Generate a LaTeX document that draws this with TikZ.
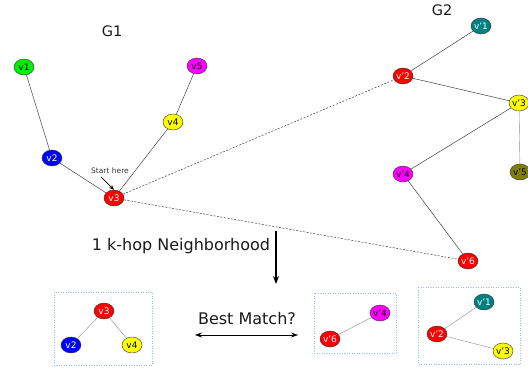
\documentclass[tikz,border=0pt]{standalone}
\usepackage{fontspec}
\setmainfont{DejaVu Sans}
\usetikzlibrary{arrows.meta,shapes.geometric}
\definecolor{vgreen}{RGB}{0,240,0}
\definecolor{vteal}{RGB}{0,128,128}
\definecolor{volive}{RGB}{128,128,0}
\definecolor{vred}{RGB}{255,0,0}
\definecolor{vblue}{RGB}{0,0,255}
\definecolor{vyellow}{RGB}{255,255,0}
\definecolor{vmag}{RGB}{255,0,255}
\definecolor{boxblue}{RGB}{150,190,240}
\tikzset{
  vtx/.style={ellipse,draw=black!80,line width=0.4pt,minimum width=20pt,minimum height=16pt,inner sep=0pt,font=\fontsize{9}{10}\selectfont},
  edge/.style={draw=black!75,line width=0.5pt},
  ledge/.style={draw=black!45,line width=0.4pt},
  dedge/.style={draw=black!75,line width=0.5pt,dash pattern=on 2pt off 1.5pt},
  bbox/.style={draw=boxblue,line width=0.5pt,dotted},
  lbl/.style={font=\fontsize{14.5}{16}\selectfont,text=black!90},
  biglbl/.style={font=\fontsize{16}{18}\selectfont,text=black!90},
}
\begin{document}
\begin{tikzpicture}[x=1pt,y=-1pt]
\useasboundingbox (0,0) rectangle (528,369);
% titles
\node[lbl] (g1) at (112,31) {G1};
\node[lbl] (g2) at (442,10) {G2};
% G1
\node[vtx,fill=vgreen] (v1) at (24,67) {v1};
\node[vtx,fill=vmag] (v5) at (197,66) {v5};
\node[vtx,fill=vyellow] (v4) at (173,122) {v4};
\node[vtx,fill=vblue,text=white] (v2) at (52,158) {v2};
\node[vtx,fill=vred,text=white] (v3) at (114,198) {v3};
\draw[edge] (v1) -- (v2);
\draw[edge] (v2) -- (v3);
\draw[edge] (v3) -- (v4);
\draw[edge] (v4) -- (v5);
\node[font=\fontsize{7.5}{8}\selectfont,text=black!80] (start) at (110,171) {Start here};
\coordinate (sa) at (101,177);
\draw[-{Stealth[length=5pt,width=4pt]},line width=0.7pt] (sa) -- (v3.north);
% G2
\node[vtx,fill=vteal,text=white] (w1) at (481,26) {v'1};
\node[vtx,fill=vred,text=white] (w2) at (403,76) {v'2};
\node[vtx,fill=vyellow] (w3) at (519,103) {v'3};
\node[vtx,fill=vmag] (w4) at (403,174) {v'4};
\node[vtx,fill=volive] (w5) at (520,172) {v'5};
\node[vtx,fill=vred,text=white] (w6) at (468,261) {v'6};
\draw[edge] (w1) -- (w2);
\draw[edge] (w2) -- (w3);
\draw[edge] (w3) -- (w4);
\draw[ledge] (w3) -- (w5);
\draw[edge] (w4) -- (w6);
% dashed
\draw[dedge] (v3) -- (w2);
\draw[dedge] (v3) -- (w6);
% k-hop
\node[biglbl] (khop) at (181,246) {1 k-hop Neighborhood};
\coordinate (ka) at (276,231);
\coordinate (kb) at (276,284);
\draw[-{Stealth[length=8pt,width=6pt]},line width=1.4pt] (ka) -- (kb);
% best match
\node[biglbl] (best) at (247,319) {Best Match?};
\coordinate (ba) at (195,335);
\coordinate (bb) at (298,335);
\draw[{Stealth[length=7pt,width=5pt]}-{Stealth[length=7pt,width=5pt]},line width=0.6pt] (ba) -- (bb);
% boxes
\draw[bbox] (54,292) rectangle (152,365);
\node[vtx,fill=vred,text=white] (b3) at (104,311) {v3};
\node[vtx,fill=vblue,text=white] (b2) at (71,345) {v2};
\node[vtx,fill=vyellow] (b4) at (132,345) {v4};
\draw[ledge] (b3) -- (b2);
\draw[ledge] (b3) -- (b4);
\draw[bbox] (314,293) rectangle (396,353);
\node[vtx,fill=vmag] (c4) at (380,313) {v'4};
\node[vtx,fill=vred,text=white] (c6) at (330,339) {v'6};
\draw[ledge] (c4) -- (c6);
\draw[bbox] (418,287) rectangle (520,364);
\node[vtx,fill=vteal,text=white] (d1) at (484,302) {v'1};
\node[vtx,fill=vred,text=white] (d2) at (437,334) {v'2};
\node[vtx,fill=vyellow] (d3) at (503,351) {v'3};
\draw[ledge] (d1) -- (d2);
\draw[ledge] (d2) -- (d3);
\end{tikzpicture}
\end{document}
